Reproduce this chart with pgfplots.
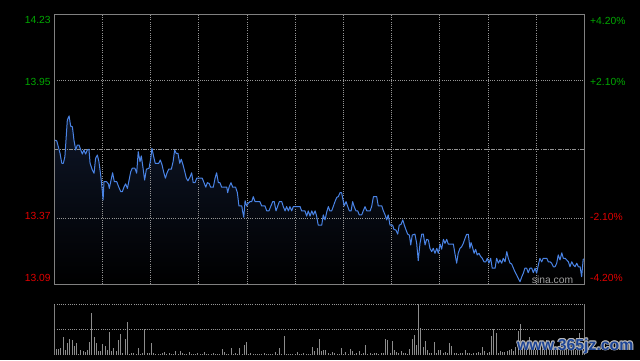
\documentclass[border=0pt]{standalone}
\usepackage{pgfplots}
\pgfplotsset{compat=1.18}
\usepackage{pgfplotstable}
\usepackage{fontspec}
\setmainfont{Liberation Sans}

\definecolor{upgreen}{RGB}{0,168,0}
\definecolor{downred}{RGB}{225,0,0}
\definecolor{gridgray}{RGB}{128,128,128}
\definecolor{dotgray}{RGB}{150,150,150}
\definecolor{linblue}{RGB}{74,132,230}
\definecolor{fillnavy}{RGB}{14,22,40}
\definecolor{volgray}{RGB}{140,140,140}
\definecolor{wmblue}{RGB}{28,68,150}

\pgfplotstableread{
m p
0 13.699
1.1 13.696
2.6 13.643
3.4 13.601
4.1 13.601
4.8 13.629
5.9 13.784
6.7 13.801
7.4 13.758
8.2 13.755
8.9 13.699
9.7 13.657
10.4 13.678
11.2 13.678
12.0 13.657
12.7 13.640
13.4 13.657
14.2 13.640
14.9 13.657
15.7 13.660
16.2 13.601
17.2 13.573
18.0 13.559
18.7 13.622
19.5 13.636
20.2 13.608
21.0 13.552
21.7 13.488
22.1 13.446
22.5 13.523
23.7 13.523
24.5 13.514
24.9 13.495
25.7 13.530
26.4 13.561
27.2 13.523
28.3 13.523
29.0 13.505
30.1 13.481
30.8 13.481
31.6 13.502
32.3 13.514
33.1 13.495
33.8 13.527
34.6 13.565
35.3 13.580
36.5 13.580
37.3 13.559
38.0 13.650
38.8 13.608
39.4 13.632
40.2 13.580
40.9 13.530
41.7 13.576
42.9 13.580
43.7 13.622
44.2 13.664
45.0 13.629
45.7 13.601
47.3 13.601
48.0 13.615
48.8 13.594
49.5 13.565
50.3 13.538
51.0 13.559
51.8 13.576
53.0 13.576
53.8 13.608
54.5 13.657
55.2 13.643
56.0 13.643
56.8 13.601
57.5 13.618
58.3 13.594
59.1 13.565
59.8 13.538
60.5 13.527
61.5 13.544
62.2 13.561
62.9 13.519
63.7 13.519
64.5 13.538
67.0 13.538
67.8 13.519
68.6 13.500
69.3 13.519
70.1 13.516
70.8 13.500
72.0 13.500
72.8 13.538
73.5 13.561
74.3 13.519
75.0 13.519
75.8 13.500
78.1 13.500
78.5 13.477
79.2 13.502
80.0 13.519
80.8 13.500
82.1 13.500
82.9 13.477
83.6 13.421
84.9 13.421
85.3 13.397
85.8 13.373
86.4 13.443
87.1 13.421
87.8 13.432
88.6 13.439
89.4 13.439
90.1 13.460
90.9 13.439
93.1 13.439
93.9 13.421
95.4 13.421
96.2 13.400
97.2 13.400
98.1 13.421
98.9 13.439
99.6 13.439
100.4 13.400
101.2 13.421
101.9 13.439
103.0 13.439
103.7 13.418
104.5 13.400
105.2 13.418
106.0 13.400
106.7 13.418
107.5 13.400
108.2 13.418
111.3 13.418
112.0 13.400
113.5 13.400
114.3 13.378
115.0 13.400
115.8 13.378
116.6 13.400
117.3 13.383
118.1 13.400
118.8 13.378
119.5 13.340
121.1 13.340
121.8 13.383
122.6 13.362
123.4 13.397
124.1 13.418
124.8 13.400
125.6 13.400
126.3 13.418
127.1 13.439
127.9 13.457
128.6 13.460
129.4 13.477
130.1 13.477
130.9 13.439
131.3 13.421
132.1 13.439
132.9 13.418
133.6 13.400
134.4 13.400
135.1 13.439
135.8 13.418
136.6 13.400
137.4 13.400
138.1 13.383
139.2 13.383
139.9 13.400
140.7 13.418
141.5 13.400
143.0 13.400
143.7 13.418
144.5 13.460
146.0 13.460
146.7 13.421
148.3 13.421
149.0 13.400
149.8 13.383
150.5 13.362
151.2 13.383
152.0 13.340
153.2 13.340
153.8 13.322
154.7 13.319
155.5 13.302
156.2 13.340
157.0 13.343
157.8 13.362
158.5 13.340
159.3 13.319
160.0 13.302
160.8 13.298
161.4 13.256
162.1 13.298
163.3 13.302
164.1 13.263
164.8 13.190
165.6 13.263
166.4 13.302
167.1 13.302
167.9 13.256
168.6 13.280
169.4 13.277
170.1 13.242
170.9 13.228
171.6 13.242
172.4 13.221
173.2 13.242
173.9 13.221
174.7 13.260
175.4 13.238
176.2 13.280
176.9 13.263
177.7 13.280
178.4 13.260
180.7 13.260
181.4 13.221
182.2 13.179
182.9 13.221
183.7 13.242
184.5 13.249
185.2 13.263
186.0 13.284
186.7 13.301
187.5 13.301
188.2 13.242
188.7 13.266
189.3 13.249
190.1 13.221
190.8 13.238
191.5 13.214
192.3 13.221
193.1 13.207
193.8 13.200
194.6 13.185
195.4 13.185
196.1 13.200
196.8 13.179
197.6 13.200
198.3 13.158
199.6 13.158
200.3 13.200
201.1 13.179
201.8 13.193
202.6 13.179
203.3 13.200
204.1 13.185
204.9 13.228
205.6 13.200
206.4 13.179
207.1 13.176
207.9 13.158
208.6 13.143
209.4 13.129
210.1 13.115
210.9 13.101
211.7 13.122
212.4 13.137
213.1 13.158
213.9 13.158
214.6 13.139
215.4 13.158
216.2 13.158
216.9 13.139
217.7 13.158
218.4 13.137
219.2 13.172
219.9 13.200
220.7 13.185
221.4 13.200
223.0 13.200
223.7 13.185
224.5 13.185
225.2 13.179
226.0 13.164
226.7 13.164
227.5 13.179
228.2 13.214
229.0 13.193
229.8 13.223
230.5 13.200
231.3 13.200
232.0 13.193
232.8 13.185
233.5 13.164
234.3 13.185
235.0 13.172
235.8 13.164
236.6 13.179
237.3 13.164
238.1 13.164
238.8 13.122
239.5 13.196
240.0 13.196
}\price

\pgfplotstableread{
m v
0 .11
1 .11
2 .11
3 .13
4 .36
5 .10
6 .23
7 .31
8 .30
9 .18
10 .23
11 .01
12 .10
13 .08
14 .05
15 .10
16 .25
17 .82
18 .35
19 .23
20 .07
21 .08
22 .21
23 .18
24 .10
25 .45
26 .08
27 .13
28 .08
29 .30
30 .41
31 .03
32 .32
33 .66
34 .02
35 .03
36 .03
37 .02
38 .13
39 .02
40 .03
41 .51
42 .03
43 .03
44 .23
45 .03
46 .02
47 .01
48 .02
49 .03
50 .05
51 .02
52 .03
53 .01
54 .02
55 .08
56 .02
57 .08
58 .03
59 .01
60 .02
61 .05
62 .02
63 .01
64 .02
65 .03
66 .01
67 .02
68 .05
69 .02
70 .01
71 .02
72 .03
73 .01
74 .02
75 .02
76 .11
77 .05
78 .02
79 .01
80 .13
81 .02
82 .03
83 .01
84 .13
85 .02
86 .20
87 .25
88 .02
89 .03
90 .01
91 .02
92 .01
93 .02
94 .02
95 .03
96 .01
97 .02
98 .01
99 .02
100 .05
101 .02
102 .13
103 .02
104 .38
105 .02
106 .01
107 .02
108 .01
109 .02
110 .05
111 .01
112 .02
113 .03
114 .01
115 .02
116 .02
117 .15
118 .08
119 .13
120 .31
121 .08
122 .09
123 .10
124 .03
125 .02
126 .05
127 .03
128 .02
129 .01
130 .13
131 .02
132 .05
133 .02
134 .11
135 .08
136 .02
137 .03
138 .07
139 .02
140 .03
141 .20
142 .02
143 .03
144 .02
145 .03
146 .03
147 .02
148 .04
149 .03
150 .32
151 .30
152 .04
153 .28
154 .10
155 .05
156 .03
157 .07
158 .04
159 .03
160 .02
161 .11
162 .31
163 .39
164 .20
165 1.0
166 .53
167 .16
168 .28
169 .10
170 .04
171 .03
172 .25
173 .04
174 .10
175 .10
176 .03
177 .05
178 .04
179 .23
180 .18
181 .03
182 .03
183 .02
184 .04
185 .03
186 .10
187 .04
188 .03
189 .02
190 .04
191 .03
192 .05
193 .04
194 .15
195 .07
196 .04
197 .05
198 .38
199 .51
200 .43
201 .04
202 .07
203 .05
204 .06
205 .07
206 .10
207 .12
208 .08
209 .15
210 .47
211 .61
212 .30
213 .20
214 .15
215 .36
216 .12
217 .23
218 .10
219 .15
220 .26
221 .12
222 .18
223 .30
224 .10
225 .14
226 .23
227 .10
228 .12
229 .20
230 .08
231 .15
232 .23
233 .10
234 .12
235 .20
236 .10
237 .15
238 .43
239 .16
240 .10
}\vol

\tikzset{gridline/.style={dotgray, line width=0.8pt, dash pattern=on 1pt off 1.2pt}}

\begin{document}
\begin{tikzpicture}[x=1pt,y=1pt]
\fill[black] (0,0) rectangle (640,360);
\useasboundingbox (0,0) rectangle (640,360);

% ---------- price panel ----------
\begin{axis}[
  at={(54.3pt,75.7pt)}, anchor=south west,
  width=530pt, height=270pt, scale only axis,
  xmin=0, xmax=240, ymin=13.09, ymax=14.23,
  axis on top,
  axis line style={gridgray, line width=0.9pt},
  xtick=\empty, ytick=\empty,
]
\addplot[draw=none, top color=fillnavy, bottom color=black]
  table[x=m, y=p] {\price} -- (axis cs:240,13.09) -- (axis cs:0,13.09) -- cycle;
\draw[gridline] (axis cs:21.818,13.09) -- (axis cs:21.818,14.23);
\draw[gridline] (axis cs:43.636,13.09) -- (axis cs:43.636,14.23);
\draw[gridline] (axis cs:65.455,13.09) -- (axis cs:65.455,14.23);
\draw[gridline] (axis cs:87.273,13.09) -- (axis cs:87.273,14.23);
\draw[gridline] (axis cs:109.091,13.09) -- (axis cs:109.091,14.23);
\draw[gridline] (axis cs:130.909,13.09) -- (axis cs:130.909,14.23);
\draw[gridline] (axis cs:152.727,13.09) -- (axis cs:152.727,14.23);
\draw[gridline] (axis cs:174.545,13.09) -- (axis cs:174.545,14.23);
\draw[gridline] (axis cs:196.364,13.09) -- (axis cs:196.364,14.23);
\draw[gridline] (axis cs:218.182,13.09) -- (axis cs:218.182,14.23);
\draw[gridline] (axis cs:0,13.95) -- (axis cs:240,13.95);
\draw[gridline] (axis cs:0,13.37) -- (axis cs:240,13.37);
\draw[gray!85, line width=0.8pt, dash pattern=on 4pt off 1.2pt on 1pt off 1.2pt]
  (axis cs:0,13.66) -- (axis cs:240,13.66);
\addplot[linblue, line width=1pt, line join=round] table[x=m, y=p] {\price};
\end{axis}

% ---------- volume panel ----------
\begin{axis}[
  at={(54.3pt,5pt)}, anchor=south west,
  width=530pt, height=50.7pt, scale only axis,
  xmin=0, xmax=240, ymin=0, ymax=1,
  hide axis,
]
\addplot[ycomb, volgray, line width=0.9pt, mark=none] table[x=m, y=v] {\vol};
\end{axis}
\draw[gridgray, line width=0.9pt] (54.3,5) -- (54.3,55.7);
\draw[gridgray, line width=0.9pt] (584.3,5) -- (584.3,55.7);
\draw[gridline] (54.3,55.7) -- (584.3,55.7);
\draw[gridline] (54.3,30.3) -- (584.3,30.3);

% ---------- labels ----------
\begingroup
\fontsize{10.3}{12}\selectfont
\node[anchor=east, inner sep=0, text=upgreen] at (50.8,340) {14.23};
\node[anchor=east, inner sep=0, text=upgreen] at (50.8,278.3) {13.95};
\node[anchor=east, inner sep=0, text=downred] at (50.8,144) {13.37};
\node[anchor=east, inner sep=0, text=downred] at (50.8,82) {13.09};
\node[anchor=west, inner sep=0, text=upgreen] at (590,339.2) {+4.20\%};
\node[anchor=west, inner sep=0, text=upgreen] at (590,278.2) {+2.10\%};
\node[anchor=west, inner sep=0, text=downred] at (590,143) {-2.10\%};
\node[anchor=west, inner sep=0, text=downred] at (590,82) {-4.20\%};
\node[anchor=base west, inner sep=0, text=gray!75] at (531.7,76.9) {sina.com};
\endgroup

% ---------- watermark ----------
\begingroup
\fontsize{15.8}{18}\selectfont\bfseries
\node[anchor=base west, inner sep=0, text=gray!55!white] at (517.9,10) {www.365jz.com};
\node[anchor=base west, inner sep=0, text=gray!55!white] at (516.1,10) {www.365jz.com};
\node[anchor=base west, inner sep=0, text=gray!55!white] at (517,10.9) {www.365jz.com};
\node[anchor=base west, inner sep=0, text=gray!55!white] at (517,9.1) {www.365jz.com};
\node[anchor=base west, inner sep=0, text=gray!55!white] at (517.65,10.65) {www.365jz.com};
\node[anchor=base west, inner sep=0, text=gray!55!white] at (516.35,10.65) {www.365jz.com};
\node[anchor=base west, inner sep=0, text=gray!55!white] at (517.65,9.35) {www.365jz.com};
\node[anchor=base west, inner sep=0, text=gray!55!white] at (516.35,9.35) {www.365jz.com};
\node[anchor=base west, inner sep=0, text=wmblue] at (517,10) {www.365jz.com};
\endgroup
\end{tikzpicture}
\end{document}
